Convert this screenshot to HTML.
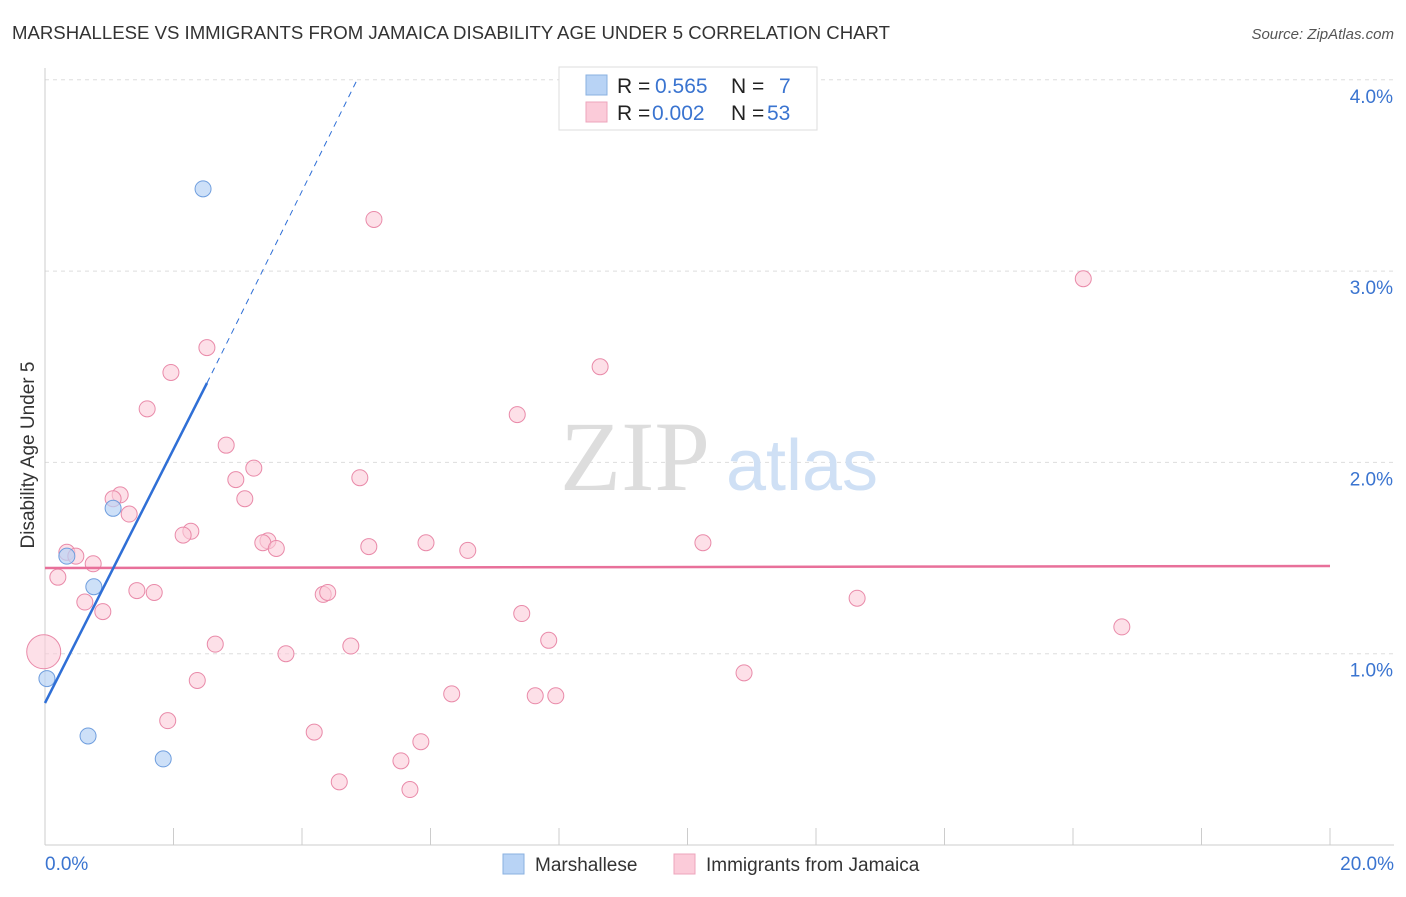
<!DOCTYPE html>
<html><head><meta charset="utf-8"><style>
body{margin:0;background:#fff;font-family:"Liberation Sans",sans-serif;}
svg text{font-family:"Liberation Sans",sans-serif;}
</style></head><body>
<svg width="1406" height="892" xmlns="http://www.w3.org/2000/svg">
<text x="12" y="39" font-size="18" fill="#333" textLength="878" lengthAdjust="spacingAndGlyphs">MARSHALLESE VS IMMIGRANTS FROM JAMAICA DISABILITY AGE UNDER 5 CORRELATION CHART</text>
<text x="1394" y="39" font-size="15" font-style="italic" fill="#555" text-anchor="end">Source: ZipAtlas.com</text>
<g id="grid"></g>
<text x="635" y="490" font-size="100" style="font-family:'Liberation Serif',serif" fill="#ddd" text-anchor="middle">ZIP</text>
<text x="802" y="490" font-size="72" fill="#cfe0f5" text-anchor="middle">atlas</text>
<text transform="translate(34,455) rotate(-90)" font-size="19" fill="#333" text-anchor="middle">Disability Age Under 5</text>
<g id="marks"></g>
<g>
<rect x="559" y="67" width="258" height="63" fill="#fff" stroke="#ddd"/>
<rect x="586" y="75" width="21" height="20" fill="#b8d3f5" stroke="#8ab0e0"/>
<rect x="586" y="102" width="21" height="20" fill="#fbcbd9" stroke="#eea5bc"/>
<text x="617" y="93" font-size="21" fill="#222">R = <tspan x="655" fill="#3a74d0">0.565</tspan></text>
<text x="731" y="93" font-size="21" fill="#222">N = <tspan x="779" fill="#3a74d0">7</tspan></text>
<text x="617" y="120" font-size="21" fill="#222">R = <tspan x="652" fill="#3a74d0">0.002</tspan></text>
<text x="731" y="120" font-size="21" fill="#222">N = <tspan x="767" fill="#3a74d0">53</tspan></text>
</g>
<g>
<rect x="503" y="854" width="21" height="20" fill="#b8d3f5" stroke="#8ab0e0"/>
<text x="535" y="871" font-size="19" fill="#333">Marshallese</text>
<rect x="674" y="854" width="21" height="20" fill="#fbcbd9" stroke="#eea5bc"/>
<text x="706" y="871" font-size="19" fill="#333">Immigrants from Jamaica</text>
</g>
</svg>
<script>
const blueX=[2.46,1.06,0.34,0.76,0.03,0.67,1.84];
const blueY=[3.43,1.76,1.51,1.35,0.87,0.57,0.45];
const pinkPx=[374,1083,207,600,171,147,517,226,254,360,236,120,113,245,129,191,183,268,263,426,703,276,369,468,67,76,93,58,137,154,323,328,857,85,103,522,1122,549,215,351,44,286,744,197,452,535,556,168,314,421,401,339,410];
const pinkPy=[219,278,348,367,372,408,414,446,469,478,479,495,499,499,514,531,536,540,542,542,543,548,547,551,552,557,564,578,590,592,594,593,598,603,612,613,627,641,644,647,652,654,673,680,693,695,695,721,732,742,761,781,789];
const pinkX=pinkPx.map(p=>+((p-45)/64.25).toFixed(2));
const pinkY=pinkPy.map(p=>+((845-p)/191.3).toFixed(2));
const yTicks=[1,2,3,4];const yLabels=["1.0%","2.0%","3.0%","4.0%"];
const xTicks=[0,2,4,6,8,10,12,14,16,18,20];
const NS="http://www.w3.org/2000/svg";
const sx=v=>45+v*64.25, sy=v=>845-v*191.3;
function mk(t,a,p){const e=document.createElementNS(NS,t);for(const k in a)e.setAttribute(k,a[k]);p.appendChild(e);return e;}
const g=document.getElementById('grid'),m=document.getElementById('marks');
yTicks.forEach((v,i)=>{const l=mk('line',{x1:45,x2:1394,y1:sy(v),y2:sy(v),stroke:'#ddd','stroke-dasharray':'4 4'},g);


const t=mk('text',{x:1393,y:sy(v)+23,'font-size':19,fill:'#3a74d0','text-anchor':'end'},g);t.textContent=yLabels[i];

});
mk('line',{x1:45,x2:45,y1:68,y2:845,stroke:'#ccc'},g);
mk('line',{x1:45,x2:1394,y1:845,y2:845,stroke:'#ccc'},g);
xTicks.forEach(v=>{const l=mk('line',{x1:sx(v),x2:sx(v),y1:828,y2:845,stroke:'#ccc'},g);

});
[["0.0%",45,'start'],["20.0%",1394,'end']].forEach(a=>{const t=mk('text',{x:a[1],y:870,'font-size':19,fill:'#3a74d0','text-anchor':a[2]},g);t.textContent=a[0];

});
pinkX.forEach((x,i)=>{const c=mk('circle',{cx:sx(x),cy:sy(pinkY[i]),r:i==40?17:8,fill:'#fbcbd9','fill-opacity':0.6,stroke:'#e98aa9','stroke-width':1},m);

});
blueX.forEach((x,i)=>{const c=mk('circle',{cx:sx(x),cy:sy(blueY[i]),r:8,fill:'#b8d3f5','fill-opacity':0.7,stroke:'#6f9ede','stroke-width':1},m);

});
const pl=mk('line',{x1:45,y1:568,x2:1330,y2:566,stroke:'#e8709a','stroke-width':2.5},m);


const bl=mk('line',{x1:45,y1:703,x2:207,y2:383,stroke:'#2f6fd6','stroke-width':2.5},m);


const bd=mk('line',{x1:207,y1:383,x2:358,y2:78,stroke:'#2f6fd6','stroke-width':1,'stroke-dasharray':'6 5'},m);


</script>
</body></html>
